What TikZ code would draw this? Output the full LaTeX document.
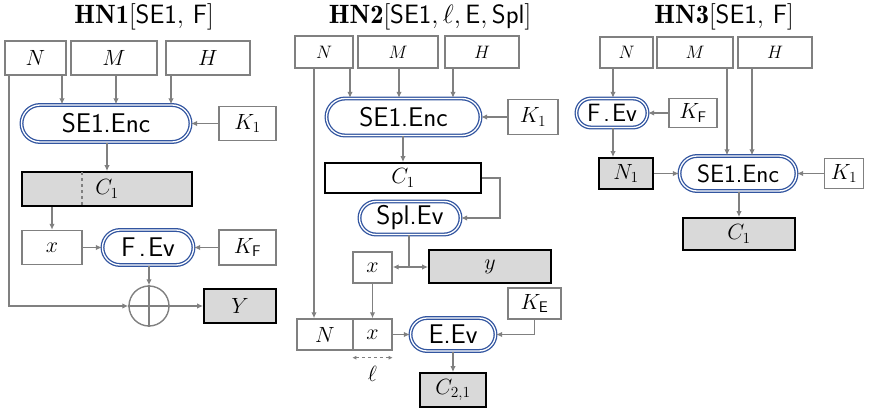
\RequirePackage{fix-cm}
\documentclass[tikz,border=0pt]{standalone}
\usepackage{fontspec}
\usetikzlibrary{shapes.misc,arrows.meta}
\definecolor{boxgray}{RGB}{128,128,128}
\definecolor{arrgray}{RGB}{128,128,128}
\definecolor{boxfill}{RGB}{217,217,217}
\definecolor{pillblue}{RGB}{50,85,160}
\tikzset{
  lab/.style={font=\fontsize{22}{26}\selectfont},
  smalllab/.style={font=\fontsize{18}{22}\selectfont},
  title/.style={font=\fontsize{26.5}{30}\selectfont, inner sep=0pt},
  box/.style={draw=boxgray, line width=1.4pt, fill=white, inner sep=0pt},
  wbox/.style={draw=black, line width=1.8pt, fill=white, inner sep=0pt},
  dbox/.style={draw=black, line width=1.8pt, fill=boxfill, inner sep=0pt},
  pill/.style={rounded rectangle, draw=pillblue, double=white, double distance=1.3pt,
     line width=1.3pt, inner sep=0pt, font=\sffamily\fontsize{27}{30}\selectfont},
  spill/.style={pill, font=\sffamily\fontsize{25}{28}\selectfont},
  arr/.style={draw=arrgray, line width=1.4pt, -{Latex[length=6pt,width=5.5pt]}},
  ln/.style={draw=arrgray, line width=1.4pt},
  xorc/.style={circle, draw=arrgray, line width=1.4pt, minimum size=40pt, inner sep=0pt},
  ldash/.style={draw=arrgray, line width=1.1pt, dashed, {Latex[length=4pt,width=4pt]}-{Latex[length=4pt,width=4pt]}},
}
\newcommand{\fev}{F\hspace{0.12em}.\hspace{0.08em}Ev}
\begin{document}
\begin{tikzpicture}[x=1pt,y=-1pt]
\useasboundingbox (0,0) rectangle (878,409);

% ---------------- titles
\node[title] (t1) at (144,17) {$\mathbf{HN1}[\mathsf{SE1},\,\mathsf{F}]$};
\node[title] (t2) at (430,17) {$\mathbf{HN2}[\mathsf{SE1},\ell,\mathsf{E},\mathsf{Spl}]$};
\node[title] (t3) at (724,17) {$\mathbf{HN3}[\mathsf{SE1},\,\mathsf{F}]$};

% ---------------- HN1
\node[box,lab,minimum width=61pt,minimum height=34pt] (N1) at (35.5,58) {$N$};
\node[box,lab,minimum width=86pt,minimum height=34pt] (M1) at (114,58) {$M$};
\node[box,lab,minimum width=84pt,minimum height=34pt] (H1) at (208,58) {$H$};
\node[pill,minimum width=169pt,minimum height=37pt] (enc1) at (106,123.5) {SE1.Enc};
\node[box,lab,minimum width=57pt,minimum height=34pt] (K11) at (247.5,123.5) {$K_1$};
\node[dbox,lab,minimum width=170pt,minimum height=34pt] (C11) at (107,189) {$C_1$};
\node[box,lab,minimum width=60pt,minimum height=34pt] (x1) at (52,247.5) {$x$};
\node[pill,minimum width=91pt,minimum height=35pt] (fev1) at (148,247.5) {\fev};
\node[box,lab,minimum width=57pt,minimum height=35pt] (KF1) at (247.5,247.5) {$K_{\mathsf{F}}$};
\node[xorc] (xor1) at (149,306) {};
\node[dbox,lab,minimum width=72pt,minimum height=34pt] (Y1) at (240,306) {$Y$};

\draw[ln] (xor1.north) -- (xor1.south);
\draw[ln] (xor1.west) -- (xor1.east);
\draw[arr] (N1.south -| 62,0) -- (enc1.north -| 62,0);
\draw[arr] (M1.south -| 116,0) -- (enc1.north -| 116,0);
\draw[arr] (H1.south -| 171,0) -- (enc1.north -| 171,0);
\draw[arr] (K11.west) -- (enc1.east);
\draw[arr] (enc1.south -| C11) -- (C11.north);
\draw[ln,dashed,shorten <=1pt,shorten >=1pt] (C11.north -| 82,0) -- (C11.south -| 82,0);
\draw[arr] (C11.south -| x1) -- (x1.north);
\draw[arr] (x1.east) -- (fev1.west);
\draw[arr] (KF1.west) -- (fev1.east);
\draw[arr] (fev1.south -| xor1) -- (xor1.north);
\draw[arr] (N1.south -| 9,0) |- (xor1.west);
\draw[arr] (xor1.east) -- (Y1.west);

% ---------------- HN2
\node[box,smalllab,minimum width=58pt,minimum height=32pt] (N2) at (324,52) {$N$};
\node[box,smalllab,minimum width=80pt,minimum height=32pt] (M2) at (398,52) {$M$};
\node[box,smalllab,minimum width=74pt,minimum height=32pt] (H2) at (482,52) {$H$};
\node[pill,minimum width=154pt,minimum height=37pt] (enc2) at (403.5,117) {SE1.Enc};
\node[box,lab,minimum width=50pt,minimum height=35pt] (K12) at (533,117) {$K_1$};
\node[wbox,lab,minimum width=156pt,minimum height=30pt] (C12) at (403,178) {$C_1$};
\node[pill,minimum width=101pt,minimum height=33pt] (spl2) at (410,218) {Spl.Ev};
\node[box,lab,minimum width=39pt,minimum height=31pt] (x2) at (372.5,267.5) {$x$};
\node[dbox,lab,minimum width=122pt,minimum height=33pt] (y2) at (490,266.5) {$y$};
\node[box,lab,minimum width=53pt,minimum height=31pt] (KE2) at (534.5,303.5) {$K_{\mathsf{E}}$};
\node[box,lab,minimum width=56pt,minimum height=31pt] (N2b) at (325,334.5) {$N$};
\node[box,lab,minimum width=39pt,minimum height=31pt] (x2b) at (372.5,334.5) {$x$};
\node[pill,minimum width=85pt,minimum height=33pt] (eev2) at (453,334.5) {E.Ev};
\node[dbox,lab,minimum width=66pt,minimum height=34pt] (C212) at (453,390) {$C_{2,1}$};
\coordinate (j2) at (409,267);

\draw[arr] (N2.south -| 350,0) -- (enc2.north -| 350,0);
\draw[arr] (M2.south -| 399,0) -- (enc2.north -| 399,0);
\draw[arr] (H2.south -| 453,0) -- (enc2.north -| 453,0);
\draw[arr] (K12.west) -- (enc2.east);
\draw[arr] (enc2.south -| C12) -- (C12.north);
\draw[arr] (C12.east) -- ++(18,0) |- (spl2.east);
\draw[ln] (spl2.south -| j2) -- (j2);
\draw[arr] (j2) -- (x2.east |- j2);
\draw[arr] (j2) -- (y2.west |- j2);
\draw[arr] (x2.south) -- (x2b.north);
\draw[arr] (N2.south -| 314,0) -- (N2b.north -| 314,0);
\draw[arr] (x2b.east) -- (eev2.west);
\draw[arr] (KE2.south) |- (eev2.east);
\draw[arr] (eev2.south) -- (C212.north);
\draw[ldash] ([yshift=-7pt]x2b.south west) -- ([yshift=-7pt]x2b.south east);
\node[lab,inner sep=0pt] (ell) at (372.5,374) {$\ell$};

% ---------------- HN3
\node[box,smalllab,minimum width=53pt,minimum height=31pt] (N3) at (626.5,52.5) {$N$};
\node[box,smalllab,minimum width=76pt,minimum height=31pt] (M3) at (695,52.5) {$M$};
\node[box,smalllab,minimum width=74pt,minimum height=31pt] (H3) at (775,52.5) {$H$};
\node[spill,minimum width=71pt,minimum height=29pt] (fev3) at (612,113) {\fev};
\node[box,lab,minimum width=48pt,minimum height=29pt] (KF3) at (693,113) {$K_{\mathsf{F}}$};
\node[dbox,lab,minimum width=54pt,minimum height=31pt] (N13) at (626,173.5) {$N_1$};
\node[spill,minimum width=117pt,minimum height=35pt] (enc3) at (738,173.5) {SE1.Enc};
\node[box,lab,minimum width=39pt,minimum height=30pt] (K13) at (844,173.5) {$K_1$};
\node[dbox,lab,minimum width=112pt,minimum height=32pt] (C13) at (739,234) {$C_1$};

\draw[arr] (N3.south -| 613,0) -- (fev3.north -| 613,0);
\draw[arr] (fev3.south -| 613,0) -- (N13.north -| 613,0);
\draw[arr] (KF3.west) -- (fev3.east);
\draw[arr] (N13.east) -- (enc3.west);
\draw[arr] (M3.south -| 727,0) -- (enc3.north -| 727,0);
\draw[arr] (H3.south -| 752,0) -- (enc3.north -| 752,0);
\draw[arr] (K13.west) -- (enc3.east);
\draw[arr] (enc3.south -| C13) -- (C13.north);
\end{tikzpicture}
\end{document}
